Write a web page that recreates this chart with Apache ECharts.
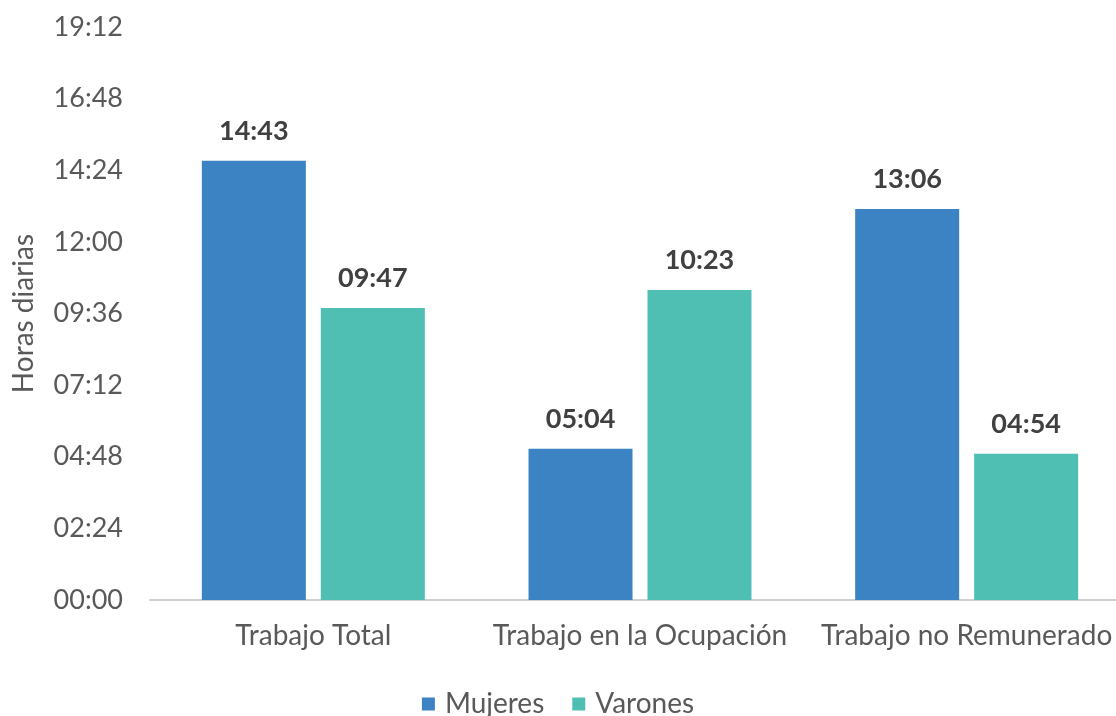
<!DOCTYPE html>
<html><head><meta charset="utf-8">
<script src="https://cdn.jsdelivr.net/npm/echarts@6/dist/echarts.min.js"></script>
<style>html,body{margin:0;padding:0;background:#fff}#c{width:1116px;height:716px}</style>
</head><body><div id="c"></div>
<script>
const categories = ['Trabajo Total', 'Trabajo en la Ocupación', 'Trabajo no Remunerado'];
// values in minutes
const mujeres = [883, 304, 786];   // 14:43, 05:04, 13:06
const varones = [587, 623, 294];   // 09:47, 10:23, 04:54
const seriesNames = ['Mujeres', 'Varones'];
const yName = 'Horas diarias';

function fmt(m) {
  const h = Math.floor(m / 60), mm = Math.round(m % 60);
  return String(h).padStart(2, '0') + ':' + String(mm).padStart(2, '0');
}
const F = 'Lato, "Open Sans", sans-serif';
const chart = echarts.init(document.getElementById('c'));
const lbl = {show: true, position: 'top', distance: 16, formatter: p => fmt(p.value), fontFamily: F, fontSize: 27, fontWeight: 'bold', color: '#404040'};
chart.setOption({
  animation: false,
  textStyle: {fontFamily: F},
  legend: {bottom: -7, left: 'center', itemWidth: 13, itemHeight: 13, itemGap: 28,
    icon: 'rect', textStyle: {fontSize: 28, color: '#595959', fontFamily: F, padding: [0, 0, 0, 5]}, data: seriesNames},
  grid: {left: 150, width: 980, top: 27, bottom: 116, outerBoundsMode: 'none', containLabel: false},
  xAxis: {type: 'category', data: categories,
    axisLine: {lineStyle: {color: '#d0d0d0', width: 2}}, axisTick: {show: false},
    axisLabel: {interval: 0, fontSize: 28, color: '#595959', margin: 22, fontFamily: F, hideOverlap: false}},
  yAxis: {type: 'value', min: 0, max: 1152, interval: 144,
    name: yName, nameLocation: 'middle', nameGap: 112, nameRotate: 90,
    nameTextStyle: {fontSize: 28, color: '#595959', fontFamily: F},
    axisLabel: {formatter: fmt, fontSize: 27, color: '#595959', margin: 27, fontFamily: F},
    splitLine: {show: false}, axisLine: {show: false}, axisTick: {show: false}},
  series: [
    {name: seriesNames[0], type: 'bar', data: mujeres, barWidth: 104, barGap: '14.4%', itemStyle: {color: '#3b83c3'}, label: lbl},
    {name: seriesNames[1], type: 'bar', data: varones, barWidth: 104, itemStyle: {color: '#4fbfb4'}, label: lbl}
  ]
});
</script></body></html>
